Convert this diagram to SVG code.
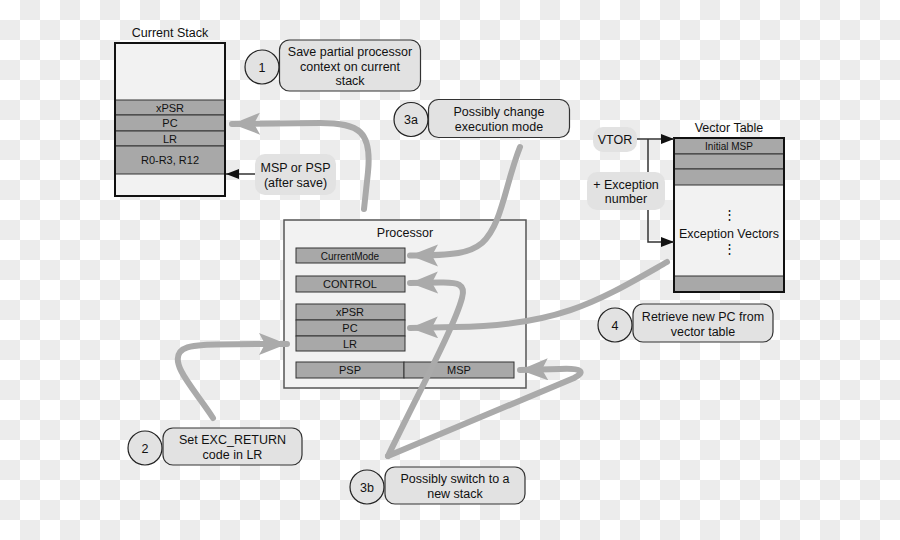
<svg xmlns="http://www.w3.org/2000/svg" width="900" height="540" viewBox="0 0 900 540">
<defs>
<pattern id="chk" width="40" height="40" patternUnits="userSpaceOnUse">
<rect width="40" height="40" fill="#ffffff"/>
<rect x="20" y="0" width="20" height="20" fill="#ececec"/>
<rect x="0" y="20" width="20" height="20" fill="#ececec"/>
</pattern>
<marker id="big" markerUnits="userSpaceOnUse" markerWidth="30" markerHeight="24" refX="28" refY="11" orient="auto">
<path d="M0,0 L28,11 L0,22 L6,11 Z" fill="#aaaaaa"/>
</marker>
<marker id="blk" markerUnits="userSpaceOnUse" markerWidth="14" markerHeight="10" refX="13" refY="5" orient="auto">
<path d="M0,0 L13,5 L0,10 Z" fill="#111"/>
</marker>
</defs>
<style>
text{font-family:"Liberation Sans",Arial,sans-serif;fill:#111;text-anchor:middle}
.t12{font-size:12.5px}
.t11{font-size:11px}
.t10{font-size:10px}
.reg{fill:#a8a8a8;stroke:#333;stroke-width:1}
.circ{fill:#e2e2e2;stroke:#222;stroke-width:1.2}
.bub{fill:#e2e2e2;stroke:#333;stroke-width:1.2}
.soft{fill:#e2e2e2}
.flow{fill:none;stroke:#aaaaaa;stroke-width:6;stroke-linecap:round;marker-end:url(#big)}
.thin{fill:none;stroke:#333;stroke-width:1.5}
</style>
<rect width="900" height="540" fill="url(#chk)"/>

<g id="current-stack">
<text class="t12" x="170" y="37">Current Stack</text>
<rect x="115" y="43" width="110" height="153" fill="#f2f2f2" stroke="#111" stroke-width="2"/>
<rect class="reg" x="115" y="100" width="110" height="15"/>
<rect class="reg" x="115" y="115" width="110" height="16"/>
<rect class="reg" x="115" y="131" width="110" height="15"/>
<rect class="reg" x="115" y="146" width="110" height="28"/>
<rect x="115" y="43" width="110" height="153" fill="none" stroke="#111" stroke-width="2"/>
<text class="t11" x="170" y="112">xPSR</text>
<text class="t11" x="170" y="127">PC</text>
<text class="t11" x="170" y="143">LR</text>
<text class="t11" x="170" y="164">R0-R3, R12</text>
</g>

<g id="processor">
<rect x="284" y="220" width="242" height="168" fill="#f2f2f2" stroke="#555" stroke-width="1.5"/>
<text class="t12" x="405" y="237">Processor</text>
<rect class="reg" x="296" y="248" width="109" height="15"/>
<text class="t10" x="350" y="259.5">CurrentMode</text>
<rect class="reg" x="296" y="276" width="109" height="16"/>
<text class="t11" x="350" y="288">CONTROL</text>
<rect class="reg" x="296" y="304" width="109" height="16"/>
<rect class="reg" x="296" y="320" width="109" height="16"/>
<rect class="reg" x="296" y="336" width="109" height="15"/>
<text class="t11" x="350" y="316">xPSR</text>
<text class="t11" x="350" y="332">PC</text>
<text class="t11" x="350" y="347.5">LR</text>
<rect class="reg" x="296" y="362" width="108" height="16"/>
<rect class="reg" x="404" y="362" width="110" height="16"/>
<text class="t11" x="350" y="374">PSP</text>
<text class="t11" x="459" y="374">MSP</text>
</g>

<g id="vector-table">
<text class="t12" x="729" y="132">Vector Table</text>
<rect x="674" y="138" width="110" height="154" fill="#f2f2f2" stroke="#111" stroke-width="2"/>
<rect class="reg" x="674" y="138" width="110" height="16"/>
<rect class="reg" x="674" y="154" width="110" height="15"/>
<rect class="reg" x="674" y="169" width="110" height="16"/>
<rect class="reg" x="674" y="276" width="110" height="16"/>
<rect x="674" y="138" width="110" height="154" fill="none" stroke="#111" stroke-width="2"/>
<text class="t10" x="729" y="150">Initial MSP</text>
<text class="t12" x="729" y="219">⋮</text>
<text class="t12" x="729" y="238">Exception Vectors</text>
<text class="t12" x="729" y="253">⋮</text>
</g>

<g id="connectors">
<path class="flow" d="M364,209 L368,172 C372,132 360,123 320,123 L232,124"/>
<path class="flow" d="M520,147 C505,185 502,225 482,243 C470,253 455,255.5 410,255.5"/>
<path class="flow" d="M667,262 C600,300 560,326 455,327 L410,328"/>
<path class="flow" d="M388,456 C420,390 455,325 462,298 C466,284 458,282 440,282.5 L410,283"/>
<path class="flow" d="M388,456 L574,378 C586,372 582,368 560,369 L520,370"/>
<path class="flow" d="M213,418 C195,390 170,365 180,352 C187,344 200,344 287,344"/>
<path class="thin" d="M255,174 L226,174" marker-end="url(#blk)"/>
<path class="thin" d="M636,139 L674,139" marker-end="url(#blk)"/>
<path class="thin" d="M648,139 L648,242 L674,242" marker-end="url(#blk)"/>
</g>

<g id="msp-psp-label">
<rect class="soft" x="255" y="154" width="81" height="41" rx="10"/>
<text class="t12" x="295.5" y="172">MSP or PSP</text>
<text class="t12" x="295.5" y="187">(after save)</text>
</g>

<g id="vtor-label">
<rect class="soft" x="593" y="127" width="44" height="25" rx="10"/>
<text class="t12" x="615" y="144">VTOR</text>
</g>

<g id="exception-number-label">
<rect class="soft" x="587" y="172" width="78" height="38" rx="10"/>
<text class="t12" x="626" y="189">+ Exception</text>
<text class="t12" x="626" y="203">number</text>
</g>

<g id="step-1">
<circle class="circ" cx="262" cy="67" r="17"/>
<text class="t12" x="262" y="71.5">1</text>
<rect class="bub" x="279.5" y="40" width="141" height="51" rx="10"/>
<text class="t12" x="350" y="56">Save partial processor</text>
<text class="t12" x="350" y="71">context on current</text>
<text class="t12" x="350" y="85">stack</text>
</g>

<g id="step-3a">
<circle class="circ" cx="411" cy="119.5" r="17"/>
<text class="t12" x="411" y="124">3a</text>
<rect class="bub" x="428.5" y="99.5" width="141" height="38" rx="10"/>
<text class="t12" x="499" y="116">Possibly change</text>
<text class="t12" x="499" y="131">execution mode</text>
</g>

<g id="step-4">
<circle class="circ" cx="615" cy="325" r="17"/>
<text class="t12" x="615" y="329.5">4</text>
<rect class="bub" x="633" y="304" width="140" height="38" rx="10"/>
<text class="t12" x="703" y="321">Retrieve new PC from</text>
<text class="t12" x="703" y="336">vector table</text>
</g>

<g id="step-2">
<circle class="circ" cx="145" cy="448" r="17"/>
<text class="t12" x="145" y="452.5">2</text>
<rect class="bub" x="163" y="428" width="139" height="37" rx="10"/>
<text class="t12" x="232.5" y="444">Set EXC_RETURN</text>
<text class="t12" x="232.5" y="459">code in LR</text>
</g>

<g id="step-3b">
<circle class="circ" cx="367" cy="487" r="17"/>
<text class="t12" x="367" y="491.5">3b</text>
<rect class="bub" x="385" y="467" width="140" height="37" rx="10"/>
<text class="t12" x="455" y="483">Possibly switch to a</text>
<text class="t12" x="455" y="498">new stack</text>
</g>
</svg>
